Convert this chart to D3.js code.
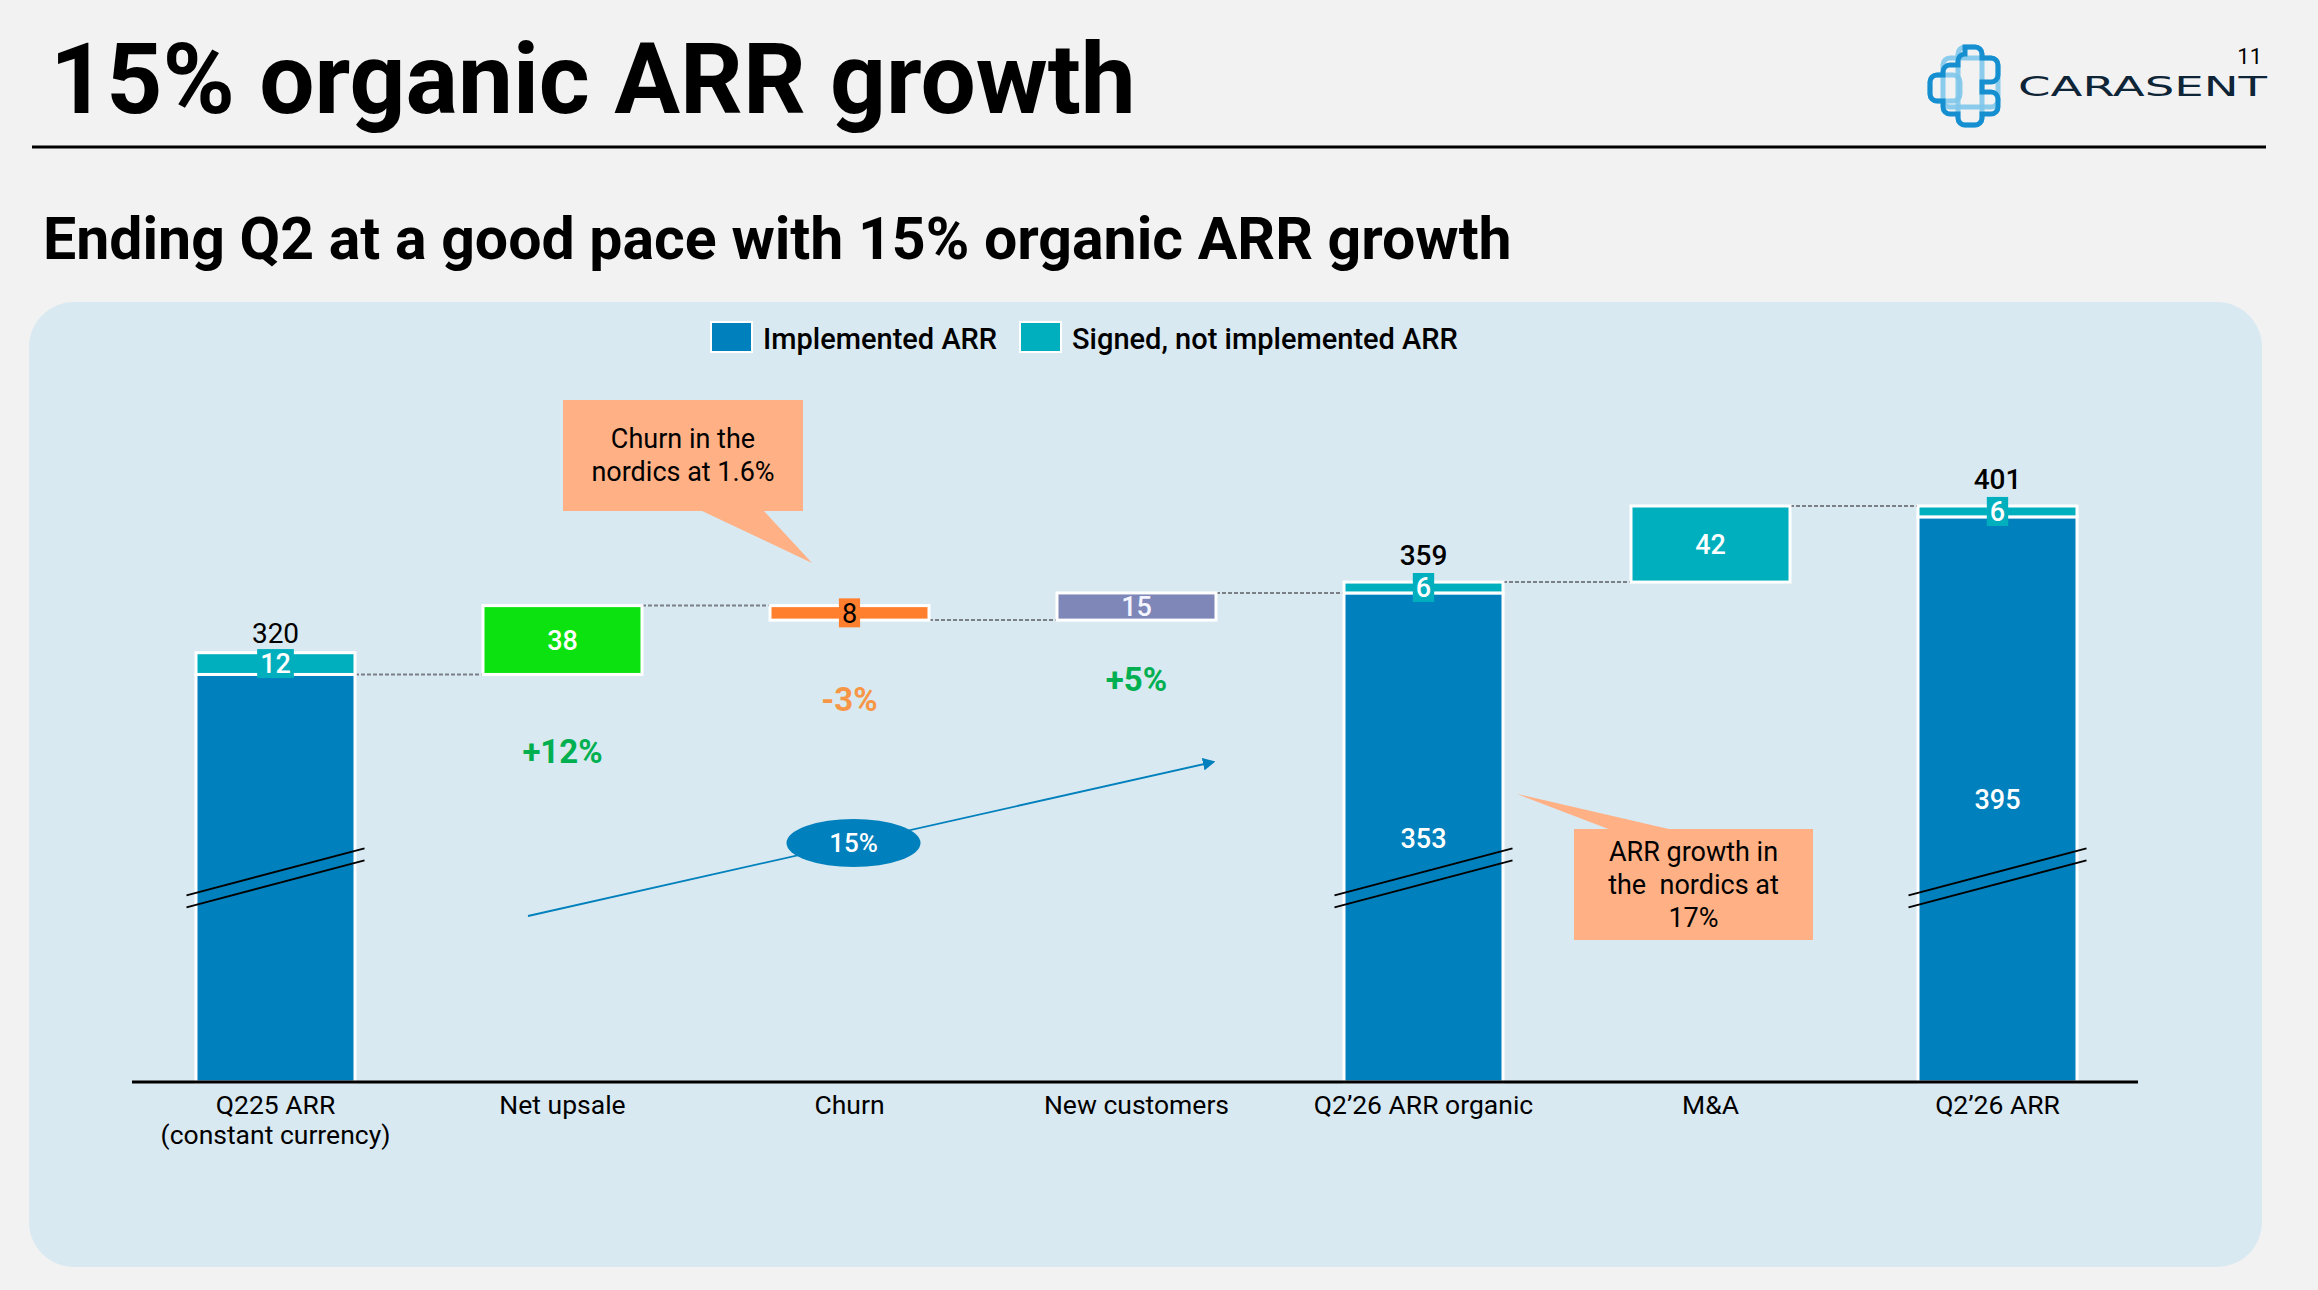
<!DOCTYPE html>
<html><head><meta charset="utf-8">
<script src="https://cdn.jsdelivr.net/npm/d3@7"></script>
<style>
body{margin:0;background:#f2f2f2;}
svg{display:block;font-family:Roboto,"Noto Sans",sans-serif;}
</style>
</head><body>
<svg id="c" width="2318" height="1290"></svg>
<script>
// ---------------- DATA ----------------
const categories = ["Q225 ARR|(constant currency)", "Net upsale", "Churn", "New customers", "Q2’26 ARR organic", "M&A", "Q2’26 ARR"];
const barType = ["total", "step", "step", "step", "total", "step", "total"];
const implementedARR = [308, null, null, null, 353, null, 395];
const signedARR = [12, null, null, null, 6, null, 6];
const stepStart = [null, 308, 346, 338, null, 359, null];
const stepChange = [null, 38, -8, 15, null, 42, null];
const stepColors = [null, "#0be20f", "#ff7f2e", "#7f87b8", null, "#00afbe", null];
const stepLabelColors = [null, "#ffffff", "#000000", "#f4f5ff", null, "#ffffff", null];
const growthLabels = [null, "+12%", "-3%", "+5%", null, null, null];
const growthColors = [null, "#00b050", "#f79646", "#00b050", null, null, null];
const seriesNames = ["Implemented ARR", "Signed, not implemented ARR"];
const seriesColors = ["#0080bc", "#00afbe"];
const axisFloor = 83;   // value at the (broken) axis baseline
const axisTop = 401;
const breakValue = 199; // where the axis-break marks sit

// ---------------- LAYOUT ----------------
const svg = d3.select("#c");
const plot = {left: 132, right: 2141, top: 506, bottom: 1082};

// page title
svg.append("text").attr("x", 50).attr("y", 113).attr("font-size", 98).attr("font-weight", 700)
  .attr("fill", "#000").text("15% organic ARR growth");
svg.append("line").attr("x1", 32).attr("x2", 2266).attr("y1", 147).attr("y2", 147)
  .attr("stroke", "#000").attr("stroke-width", 3);
svg.append("text").attr("x", 2262).attr("y", 64).attr("text-anchor", "end").attr("font-size", 22)
  .attr("fill", "#000").text("11");

// logo
const logo = svg.append("g");
const lg = [[1943,58,55,49],[1958,47,24,78],[1930,75,30,26]];
lg.forEach(r => logo.append("rect").attr("x", r[0]).attr("y", r[1]).attr("width", r[2]).attr("height", r[3])
  .attr("rx", 7).attr("fill", "none").attr("stroke", "#7fc6ea").attr("stroke-width", 5).attr("opacity", 0.9));
const outline = "M1965,47 h10 a7,7 0 0 1 7,7 v4 h9 a7,7 0 0 1 7,7 v10 a7,7 0 0 1 -7,7 h-9 v10 h9 a7,7 0 0 1 7,7 v8 a7,7 0 0 1 -7,7 h-9 v4 a7,7 0 0 1 -7,7 h-10 a7,7 0 0 1 -7,-7 v-4 h-8 a7,7 0 0 1 -7,-7 v-6 h-6 a7,7 0 0 1 -7,-7 v-12 a7,7 0 0 1 7,-7 h6 v-3 a7,7 0 0 1 7,-7 h8 v-4 a7,7 0 0 1 7,-7 z";
logo.append("path").attr("d", outline).attr("fill", "none").attr("stroke", "#168fd0").attr("stroke-width", 5);
svg.append("text").attr("x", 2018).attr("y", 96).attr("font-size", 27).attr("font-family", "DejaVu Sans")
  .attr("textLength", 249).attr("lengthAdjust", "spacingAndGlyphs").attr("fill", "#0e2437")
  .attr("font-weight", 400).text("CARASENT");

// subtitle
svg.append("text").attr("x", 43).attr("y", 259).attr("font-size", 59).attr("font-weight", 700)
  .attr("fill", "#000").text("Ending Q2 at a good pace with 15% organic ARR growth");

// panel
svg.append("rect").attr("x", 29).attr("y", 302).attr("width", 2233).attr("height", 965)
  .attr("rx", 45).attr("fill", "#d9e9f1");

// legend
const legendX = [711, 1020];
seriesNames.forEach((n, i) => {
  svg.append("rect").attr("x", legendX[i]).attr("y", 322).attr("width", 41).attr("height", 30)
    .attr("fill", seriesColors[i]).attr("stroke", "#fff").attr("stroke-width", 2);
  svg.append("text").attr("x", legendX[i] + 52).attr("y", 349).attr("font-size", 29).attr("font-weight", 500)
    .attr("fill", "#000").text(n);
});

// ---------------- SCALES ----------------
const x = d3.scaleBand().domain(categories).range([plot.left, plot.right])
  .paddingInner(0.446).paddingOuter(0.223);
const y = d3.scaleLinear().domain([axisFloor, axisTop]).range([plot.bottom, plot.top]);
const bw = x.bandwidth();
const cx = i => x(categories[i]) + bw / 2;

const g = svg.append("g");

// connectors
const connectors = [];
for (let i = 0; i < categories.length - 1; i++) {
  const v = barType[i + 1] === "step" ? stepStart[i + 1] : stepStart[i] + stepChange[i];
  connectors.push({i, v});
}
g.selectAll("line.conn").data(connectors).join("line").attr("class", "conn")
  .attr("x1", d => x(categories[d.i]) + bw).attr("x2", d => x(categories[d.i + 1]))
  .attr("y1", d => y(d.v)).attr("y2", d => y(d.v))
  .attr("stroke", "#7b7f86").attr("stroke-width", 2).attr("stroke-dasharray", "4,2");

// total bars
const totals = categories.map((c, i) => ({c, i})).filter(d => barType[d.i] === "total");
g.selectAll("rect.impl").data(totals).join("rect").attr("class", "impl")
  .attr("x", d => x(d.c)).attr("width", bw)
  .attr("y", d => y(implementedARR[d.i])).attr("height", d => y(axisFloor) - y(implementedARR[d.i]))
  .attr("fill", seriesColors[0]).attr("stroke", "#fff").attr("stroke-width", 3);
g.selectAll("rect.sig").data(totals).join("rect").attr("class", "sig")
  .attr("x", d => x(d.c)).attr("width", bw)
  .attr("y", d => y(implementedARR[d.i] + signedARR[d.i]))
  .attr("height", d => y(implementedARR[d.i]) - y(implementedARR[d.i] + signedARR[d.i]))
  .attr("fill", seriesColors[1]).attr("stroke", "#fff").attr("stroke-width", 3);

// step bars
const steps = categories.map((c, i) => ({c, i})).filter(d => barType[d.i] === "step");
g.selectAll("rect.step").data(steps).join("rect").attr("class", "step")
  .attr("x", d => x(d.c)).attr("width", bw)
  .attr("y", d => y(Math.max(stepStart[d.i], stepStart[d.i] + stepChange[d.i])))
  .attr("height", d => Math.abs(y(stepStart[d.i]) - y(stepStart[d.i] + stepChange[d.i])))
  .attr("fill", d => stepColors[d.i]).attr("stroke", "#fff").attr("stroke-width", 3);

// axis
const axis = d3.axisBottom(x).tickSize(0).tickPadding(0).tickSizeOuter(0);
const ag = svg.append("g").attr("transform", `translate(0,${plot.bottom})`).call(axis);
ag.select(".domain").attr("stroke", "#000").attr("stroke-width", 3)
  .attr("d", `M${plot.left},0H${plot.right - 3}`);
ag.selectAll(".tick text").each(function(d) {
  const t = d3.select(this).text("").attr("font-size", 26.5).attr("font-family", "Roboto")
    .attr("fill", "#000").attr("dy", null).attr("y", 32);
  d.split("|").forEach((line, k) => t.append("tspan").attr("x", 0).attr("y", 32 + k * 30).text(line));
});

// axis break marks
totals.forEach(d => {
  const c = cx(d.i);
  [0, 12].forEach(off => {
    g.append("line").attr("x1", c - 89).attr("x2", c + 89)
      .attr("y1", y(breakValue) + 23.5 + off).attr("y2", y(breakValue) - 23.5 + off)
      .attr("stroke", "#000").attr("stroke-width", 2);
  });
});

// value labels
const lab = svg.append("g").attr("text-anchor", "middle").attr("font-size", 27);
function boxedLabel(xc, yc, txt, fill, color, wt) {
  const t = lab.append("text").attr("x", xc).attr("y", yc).attr("dy", "0.36em")
    .attr("font-weight", wt).attr("fill", color).text(txt);
  const bb = t.node().getBBox();
  lab.insert("rect", () => t.node()).attr("x", xc - bb.width / 2 - 3).attr("width", bb.width + 6)
    .attr("y", yc - 14.5).attr("height", 29).attr("fill", fill);
}
totals.forEach(d => {
  const imp = implementedARR[d.i], sig = signedARR[d.i];
  const tot = imp + sig;
  lab.append("text").attr("x", cx(d.i)).attr("y", y(tot) - (d.i === 0 ? 10 : 17)).attr("font-size", 28)
    .attr("font-weight", d.i === 0 ? 400 : 500).attr("fill", "#000").text(tot);
  boxedLabel(cx(d.i), (y(tot) + y(imp)) / 2, sig, seriesColors[1], "#fff", 500);
  if (d.i > 0) {
    lab.append("text").attr("x", cx(d.i)).attr("y", d.i === 4 ? y(imp) + 255 : y(imp) + 292)
      .attr("font-weight", 500).attr("fill", "#fff").text(imp);
  }
});
steps.forEach(d => {
  const a = stepStart[d.i], b = stepStart[d.i] + stepChange[d.i];
  const yc = (y(a) + y(b)) / 2;
  if (Math.abs(y(a) - y(b)) < 20) {
    boxedLabel(cx(d.i), yc, Math.abs(stepChange[d.i]), stepColors[d.i], stepLabelColors[d.i], 400);
  } else {
    lab.append("text").attr("x", cx(d.i)).attr("y", yc).attr("dy", "0.36em")
      .attr("font-weight", 500).attr("fill", stepLabelColors[d.i]).text(Math.abs(stepChange[d.i]));
  }
  if (growthLabels[d.i]) {
    const gy = {1: 763, 2: 711, 3: 691}[d.i];
    lab.append("text").attr("x", cx(d.i)).attr("y", gy).attr("font-size", 33).attr("font-weight", 700)
      .attr("fill", growthColors[d.i]).text(growthLabels[d.i]);
  }
});

// growth arrow
const defs = svg.append("defs");
defs.append("marker").attr("id", "ah").attr("viewBox", "0 0 10 10").attr("refX", 8).attr("refY", 5)
  .attr("markerWidth", 7).attr("markerHeight", 7).attr("orient", "auto")
  .append("path").attr("d", "M0,0L10,5L0,10z").attr("fill", "#0080bc");
svg.append("line").attr("x1", 528).attr("y1", 916).attr("x2", 1213).attr("y2", 762)
  .attr("stroke", "#0080bc").attr("stroke-width", 1.8).attr("marker-end", "url(#ah)");
svg.append("ellipse").attr("cx", cx(2) + 4).attr("cy", 843).attr("rx", 67).attr("ry", 24).attr("fill", "#0080bc");
svg.append("text").attr("x", cx(2) + 4).attr("y", 843).attr("dy", "0.36em").attr("text-anchor", "middle")
  .attr("font-size", 26).attr("font-weight", 500).attr("fill", "#fff").text("15%");

// callouts
function callout(x0, y0, w, h, tail, lines, baseY, lh) {
  svg.append("path").attr("d", `M${x0},${y0}H${x0 + w}V${y0 + h}H${x0}Z`).attr("fill", "#ffb084");
  svg.append("path").attr("d", tail).attr("fill", "#ffb084");
  const t = svg.append("text").attr("text-anchor", "middle").attr("font-size", 27).attr("fill", "#000");
  lines.forEach((l, k) => t.append("tspan").attr("x", x0 + w / 2).attr("y", baseY + k * lh).text(l));
}
callout(563, 400, 240, 111, "M700,510L763,510L812,563Z", ["Churn in the", "nordics at 1.6%"], 448, 33);
callout(1574, 829, 239, 111, "M1611,830L1673,830L1517,794Z", ["ARR growth in", "the\u00a0 nordics at", "17%"], 861, 33);
</script>
</body></html>
